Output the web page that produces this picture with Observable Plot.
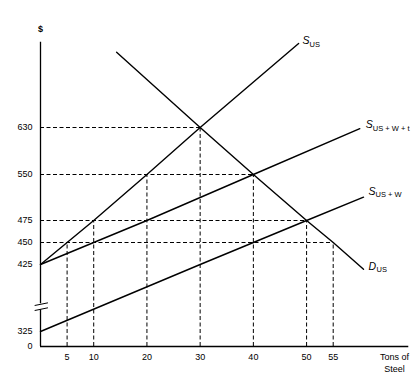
<!DOCTYPE html>
<html><head><meta charset="utf-8">
<script src="https://cdn.jsdelivr.net/npm/d3@7"></script>
<script src="https://cdn.jsdelivr.net/npm/@observablehq/plot@0.6"></script>
<style>body{margin:0;background:#fff} #chart svg{display:block}</style>
</head><body><div id="chart"></div>
<script>
// ---- data (tons of steel, $) ----
const xTicks = [5, 10, 20, 30, 40, 50, 55];
const yTicks = [0, 325, 425, 450, 475, 550, 630];
const supplyUS      = [[0,425],[5,450],[10,475],[20,550],[30,630],[48.5,773]];
const supplyUSWt    = [[0,425],[10,450],[20,475],[40,550],[60,628]];
const supplyUSW     = [[0,325],[30,425],[40,450],[50,475],[60.7,513]];
const demandUS      = [[14.3,758],[30,630],[40,550],[50,475],[55,450],[60.7,418]];
const hGuidePrice = [630, 550, 475, 450];
const hGuideQty   = [30, 40, 50, 55];
const vGuideQty   = [5, 10, 20, 30, 40, 50, 55];
const vGuidePrice = [450, 475, 550, 630, 550, 475, 450];
const curveNames  = ["SUS", "SUSWt", "SUSW", "DUS"];
const labelLetter = ["S", "S", "S", "D"];
const labelSub    = ["US", "US + W + t", "US + W", "US"];

const curves = [supplyUS, supplyUSWt, supplyUSW, demandUS];
const rows = curves.flatMap((pts, i) => pts.map(([q, p]) => ({curve: curveNames[i], q, p})));
const ends = curves.map((pts, i) => ({q: pts[pts.length-1][0], p: pts[pts.length-1][1], letter: labelLetter[i], sub: labelSub[i]}));
const hGuides = hGuidePrice.map((p, i) => ({p, q1: 0, q2: hGuideQty[i]}));
const vGuides = vGuideQty.map((q, i) => ({q, p1: 0, p2: vGuidePrice[i]}));

const font = "Liberation Sans, Arial, Helvetica, sans-serif";
const dash = "4,2.5";

function curveLabel(i, ldx, ldy, sdx, sdy) {
  return [
    Plot.text([ends[i]], {x: "q", y: "p", text: "letter", dx: ldx, dy: ldy, textAnchor: "start", fontSize: 10.5, fontStyle: "italic", fontFamily: font, fill: "black"}),
    Plot.text([ends[i]], {x: "q", y: "p", text: "sub", dx: sdx, dy: sdy, textAnchor: "start", fontSize: 7.5, fontFamily: font, fill: "black"})
  ];
}

const chart = Plot.plot({
  width: 420,
  height: 375,
  margin: 0,
  x: {type: "linear", domain: [0, 55], range: [40, 332.7], axis: null},
  y: {type: "linear", domain: yTicks, range: [346, 331, 264, 242, 220, 174, 127], axis: null},
  style: {fontFamily: font, background: "white"},
  marks: [
    // dashed guides
    Plot.ruleY(hGuides, {y: "p", x1: "q1", x2: "q2", stroke: "black", strokeWidth: 1, strokeDasharray: dash}),
    Plot.ruleX(vGuides, {x: "q", y1: "p1", y2: "p2", stroke: "black", strokeWidth: 1, strokeDasharray: dash}),
    // axes
    Plot.ruleY([{p: 0, q1: 0, q2: 69.2}], {y: "p", x1: "q1", x2: "q2", stroke: "black", strokeWidth: 1.3}),
    Plot.ruleX([{q: 0, p1: 0, p2: 357.5}, {q: 0, p1: 366.5, p2: 775}], {x: "q", y1: "p1", y2: "p2", stroke: "black", strokeWidth: 1.3}),
    // axis break marks
    Plot.link([{q1: -1.1, q2: 1.4, p1: 363.8, p2: 367.8}, {q1: -1.1, q2: 1.4, p1: 356.3, p2: 360.4}],
      {x1: "q1", x2: "q2", y1: "p1", y2: "p2", stroke: "black", strokeWidth: 1}),
    // curves
    Plot.line(rows, {x: "q", y: "p", z: "curve", stroke: "black", strokeWidth: 1.4}),
    // tick labels
    Plot.text(yTicks, {x: 0, y: d => d, text: d => String(d), dx: -8, textAnchor: "end", fontSize: 9, fontFamily: font, fill: "black"}),
    Plot.text(xTicks, {x: d => d, y: 0, text: d => String(d), dy: 11, fontSize: 9, fontFamily: font, fill: "black"}),
    Plot.text(["$"], {x: 0, y: 775, text: d => d, dy: -13, fontSize: 9, fontWeight: "bold", fontFamily: font, fill: "black"}),
    Plot.text(["Tons of\nSteel"], {x: 66.5, y: 0, text: d => d, dy: 5, lineAnchor: "top", lineHeight: 1.33, fontSize: 9, fontFamily: font, fill: "black"}),
    // curve labels
    ...curveLabel(0, 4, -3, 11, 1),
    ...curveLabel(1, 6, -4, 13, 0),
    ...curveLabel(2, 5, -6, 12, -3),
    ...curveLabel(3, 5, -3, 13, 0)
  ]
});
document.getElementById("chart").appendChild(chart);
</script>
</body></html>
